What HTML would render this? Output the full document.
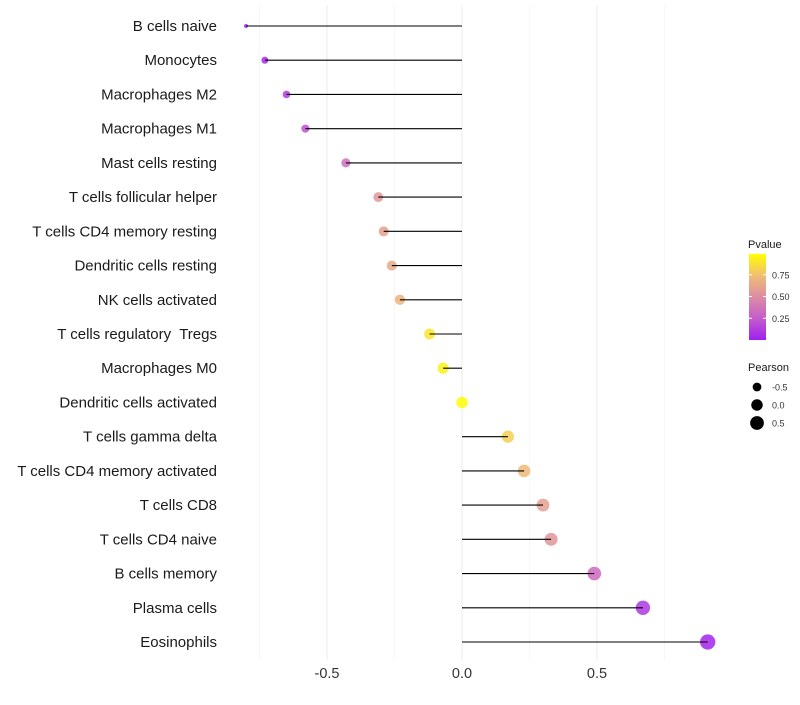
<!DOCTYPE html>
<html><head><meta charset="utf-8"><style>
body{margin:0;background:#fff;font-family:"Liberation Sans",sans-serif;}
text{white-space:pre;}
</style></head><body>
<svg id="c" width="800" height="700" xmlns="http://www.w3.org/2000/svg"></svg>
<script>
const categories=["B cells naive","Monocytes","Macrophages M2","Macrophages M1","Mast cells resting","T cells follicular helper","T cells CD4 memory resting","Dendritic cells resting","NK cells activated","T cells regulatory  Tregs","Macrophages M0","Dendritic cells activated","T cells gamma delta","T cells CD4 memory activated","T cells CD8","T cells CD4 naive","B cells memory","Plasma cells","Eosinophils"];
const pearson=[-0.80,-0.73,-0.65,-0.58,-0.43,-0.31,-0.29,-0.26,-0.23,-0.12,-0.07,0.0,0.17,0.23,0.30,0.33,0.49,0.67,0.91];
const pvalue=[0.03,0.05,0.12,0.2,0.35,0.55,0.6,0.65,0.7,0.9,0.95,0.99,0.82,0.72,0.6,0.55,0.32,0.1,0.02];
const xTicks=[-0.5,0,0.5];
const xTickLabels=["-0.5","0.0","0.5"];
const xMinor=[-0.75,-0.25,0.25,0.75];
const pTicks=[0.25,0.5,0.75];
const pTickLabels=["0.25","0.50","0.75"];
const sizeLegend=[-0.5,0,0.5];
const sizeLegendLabels=["-0.5","0.0","0.5"];

const NS="http://www.w3.org/2000/svg";
const svg=document.getElementById('c');
const X=v=>462+v*270;
const Y=i=>26+i*(616/18);
const R=v=>v<-0.78?2:Math.sqrt(Math.max(4,33+28*v));
const stops=[[0,[160,32,240]],[0.25,[196,92,204]],[0.5,[220,140,165]],[0.75,[240,190,115]],[1,[255,255,0]]];
function col(p){for(let k=1;k<stops.length;k++){if(p<=stops[k][0]){const a=stops[k-1],b=stops[k];const t=(p-a[0])/(b[0]-a[0]);return 'rgb('+a[1].map((c,j)=>Math.round(c+(b[1][j]-c)*t)).join(',')+')';}}return 'rgb(255,255,0)';}
function el(t,a,p){const e=document.createElementNS(NS,t);for(const k in a)e.setAttribute(k,a[k]);(p||svg).appendChild(e);return e;}

xMinor.forEach(v=>{const l=el('line',{x1:X(v),x2:X(v),y1:5,y2:660,stroke:'#f2f2f2','stroke-width':0.6});

});
xTicks.forEach((v,i)=>{const l=el('line',{x1:X(v),x2:X(v),y1:5,y2:660,stroke:'#ebebeb','stroke-width':1});


const t=el('text',{x:X(v),y:678,'text-anchor':'middle','font-size':14.5,fill:'#333'});t.textContent=xTickLabels[i];

});
categories.forEach((c,i)=>{const y=Y(i);
const t=el('text',{x:217,y:y+5,'text-anchor':'end','font-size':15,fill:'#1a1a1a'});t.textContent=c;


const d=el('circle',{cx:X(pearson[i]),cy:y,r:R(pearson[i]),fill:col(pvalue[i]),'fill-opacity':0.85});


const l=el('line',{x1:X(0),x2:X(pearson[i]),y1:y,y2:y,stroke:'#000','stroke-width':1.1});

});

const g=el('g',{});
const defs=el('defs',{},g);const lg=el('linearGradient',{id:'gr',x1:0,y1:1,x2:0,y2:0},defs);
stops.forEach(s=>el('stop',{offset:s[0],'stop-color':col(s[0])},lg));
let tt=el('text',{x:748,y:248,'font-size':11,fill:'#1a1a1a'},g);tt.textContent='Pvalue';
const PY=p=>340-p*87;
const bar=el('rect',{x:749,y:PY(0.99),width:17,height:PY(0)-PY(0.99),fill:'url(#gr)'},g);

pTicks.forEach((p,i)=>{el('line',{x1:749,x2:752,y1:PY(p),y2:PY(p),stroke:'#fff'},g);el('line',{x1:763,x2:766,y1:PY(p),y2:PY(p),stroke:'#fff'},g);
const t=el('text',{x:772,y:PY(p)+3.5,'font-size':9,fill:'#333'},g);t.textContent=pTickLabels[i];});
tt=el('text',{x:748,y:371,'font-size':11,fill:'#1a1a1a'},g);tt.textContent='Pearson';
sizeLegend.forEach((v,i)=>{const y=387+i*18;el('circle',{cx:757,cy:y,r:R(v),fill:'#000'},g);
const t=el('text',{x:772,y:y+3.5,'font-size':9,fill:'#333'},g);t.textContent=sizeLegendLabels[i];});
</script>
</body></html>
